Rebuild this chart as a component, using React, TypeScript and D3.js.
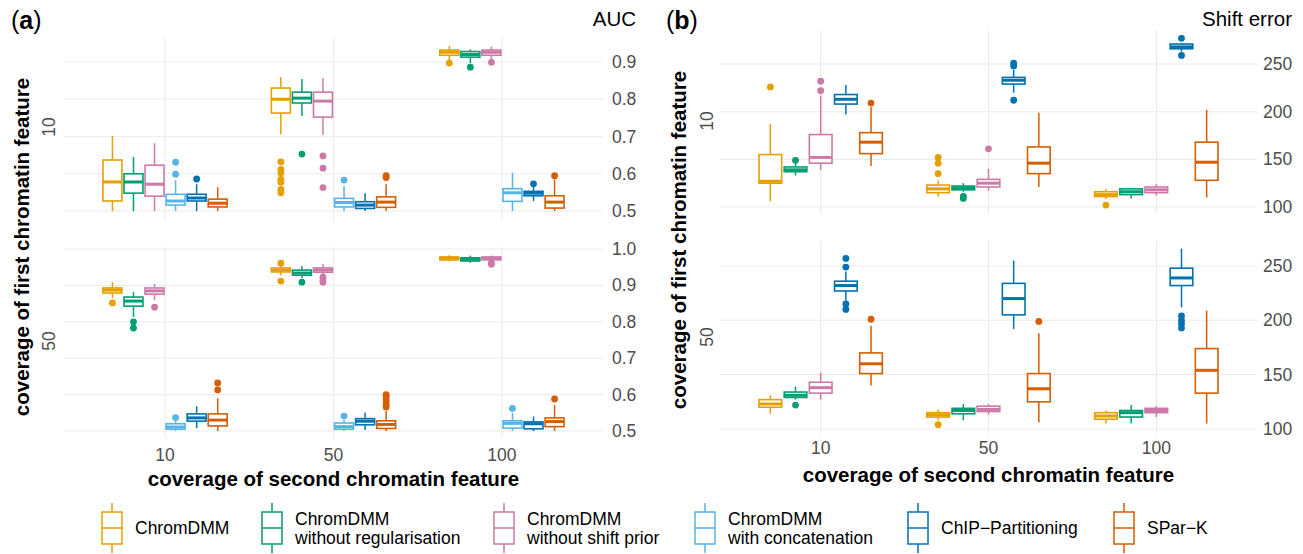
import React from "react";
import * as d3 from "d3";

// ---------- data ----------
const methodKeys = ["DMM", "noReg", "noShift", "concat", "ChIP", "SParK"];
const legendLines: string[][] = [
  ["ChromDMM"],
  ["ChromDMM", "without regularisation"],
  ["ChromDMM", "without shift prior"],
  ["ChromDMM", "with concatenation"],
  ["ChIP\u2212Partitioning"],
  ["SPar\u2212K"],
];
const palette = ["#E69F00", "#009E73", "#CC79A7", "#56B4E9", "#0072B2", "#D55E00"];
const secondCoverage = ["10", "50", "100"];
const firstCoverage = ["10", "50"];
const aucTicksRow10 = [0.5, 0.6, 0.7, 0.8, 0.9];
const aucTicksRow50 = [0.5, 0.6, 0.7, 0.8, 0.9, 1.0];
const shiftTicks = [100, 150, 200, 250];

// [method, second coverage, lower whisker, q1, median, q3, upper whisker, outliers]
type Stat = [string, string, number, number, number, number, number, number[]];

const aucRow10: Stat[] = [
  ["DMM", "10", 0.5, 0.527, 0.578, 0.637, 0.701, []],
  ["noReg", "10", 0.5, 0.548, 0.578, 0.6, 0.645, []],
  ["noShift", "10", 0.5, 0.54, 0.572, 0.623, 0.682, []],
  ["concat", "10", 0.5, 0.516, 0.527, 0.545, 0.583, [0.599, 0.631]],
  ["ChIP", "10", 0.5, 0.527, 0.535, 0.545, 0.572, [0.586]],
  ["SParK", "10", 0.5, 0.511, 0.521, 0.532, 0.564, []],
  ["DMM", "50", 0.706, 0.763, 0.8, 0.83, 0.859, [0.632, 0.612, 0.602, 0.585, 0.577, 0.558, 0.549]],
  ["noReg", "50", 0.755, 0.79, 0.803, 0.819, 0.854, [0.653]],
  ["noShift", "50", 0.705, 0.752, 0.795, 0.819, 0.857, [0.648, 0.615, 0.563]],
  ["concat", "50", 0.5, 0.511, 0.523, 0.534, 0.567, [0.583]],
  ["ChIP", "50", 0.5, 0.507, 0.516, 0.525, 0.548, []],
  ["SParK", "50", 0.5, 0.51, 0.524, 0.538, 0.572, [0.59, 0.595]],
  ["DMM", "100", 0.905, 0.918, 0.926, 0.932, 0.943, [0.897]],
  ["noReg", "100", 0.897, 0.913, 0.92, 0.928, 0.934, [0.886]],
  ["noShift", "100", 0.907, 0.918, 0.926, 0.932, 0.941, [0.899]],
  ["concat", "100", 0.5, 0.526, 0.549, 0.56, 0.603, []],
  ["ChIP", "100", 0.527, 0.541, 0.548, 0.553, 0.565, [0.573]],
  ["SParK", "100", 0.5, 0.508, 0.524, 0.541, 0.585, [0.595]],
];

const aucRow50: Stat[] = [
  ["DMM", "10", 0.865, 0.879, 0.887, 0.893, 0.909, [0.852]],
  ["noReg", "10", 0.813, 0.843, 0.857, 0.868, 0.882, [0.8, 0.783]],
  ["noShift", "10", 0.86, 0.876, 0.885, 0.893, 0.904, [0.84]],
  ["concat", "10", 0.5, 0.505, 0.511, 0.52, 0.527, [0.537]],
  ["ChIP", "10", 0.508, 0.527, 0.536, 0.547, 0.568, []],
  ["SParK", "10", 0.5, 0.514, 0.53, 0.547, 0.59, [0.613, 0.632]],
  ["DMM", "50", 0.928, 0.937, 0.942, 0.948, 0.953, [0.961, 0.912]],
  ["noReg", "50", 0.92, 0.928, 0.934, 0.942, 0.953, [0.909]],
  ["noShift", "50", 0.926, 0.936, 0.942, 0.948, 0.958, [0.923, 0.915, 0.909]],
  ["concat", "50", 0.5, 0.505, 0.512, 0.522, 0.53, [0.541]],
  ["ChIP", "50", 0.503, 0.517, 0.527, 0.534, 0.55, []],
  ["SParK", "50", 0.5, 0.507, 0.518, 0.528, 0.555, [0.566, 0.571, 0.58, 0.588, 0.596, 0.6]],
  ["DMM", "100", 0.966, 0.97, 0.975, 0.978, 0.983, []],
  ["noReg", "100", 0.962, 0.967, 0.972, 0.976, 0.982, []],
  ["noShift", "100", 0.967, 0.97, 0.975, 0.978, 0.982, [0.962, 0.958]],
  ["concat", "100", 0.5, 0.508, 0.521, 0.528, 0.55, [0.562]],
  ["ChIP", "100", 0.5, 0.506, 0.52, 0.525, 0.54, []],
  ["SParK", "100", 0.5, 0.512, 0.526, 0.536, 0.571, [0.588]],
];

const shiftRow10: Stat[] = [
  ["DMM", "10", 106, 125, 127, 155, 187, [226]],
  ["noReg", "10", 133, 137, 139, 142, 146, [149]],
  ["noShift", "10", 139, 146, 152, 176, 217, [222, 232]],
  ["ChIP", "10", 197, 208, 213, 218, 228, []],
  ["SParK", "10", 143, 156, 168, 178, 205, [209]],
  ["DMM", "50", 111, 115, 119, 123, 128, [135, 146, 152]],
  ["noReg", "50", 116, 118, 120, 122, 125, [111, 109]],
  ["noShift", "50", 117, 121, 125, 129, 140, [161]],
  ["ChIP", "50", 220, 229, 233, 236, 244, [248, 251, 212]],
  ["SParK", "50", 121, 135, 146, 163, 199, []],
  ["DMM", "100", 108, 111, 113, 116, 119, [102]],
  ["noReg", "100", 109, 113, 116, 119, 120, []],
  ["noShift", "100", 112, 115, 118, 121, 124, []],
  ["ChIP", "100", 263, 266, 268, 271, 272, [277, 259]],
  ["SParK", "100", 110, 128, 147, 168, 202, []],
];

const shiftRow50: Stat[] = [
  ["DMM", "10", 114, 120, 123, 127, 131, []],
  ["noReg", "10", 127, 129, 131, 134, 139, [122]],
  ["noShift", "10", 127, 133, 138, 143, 152, []],
  ["ChIP", "10", 218, 227, 232, 236, 245, [257, 249, 215, 210]],
  ["SParK", "10", 140, 151, 160, 170, 195, [201]],
  ["DMM", "50", 108, 111, 113, 115, 118, [104]],
  ["noReg", "50", 108, 114, 117, 119, 123, []],
  ["noShift", "50", 113, 116, 118, 121, 123, []],
  ["ChIP", "50", 192, 205, 220, 234, 255, []],
  ["SParK", "50", 106, 125, 137, 151, 188, [199]],
  ["DMM", "100", 105, 109, 112, 115, 117, []],
  ["noReg", "100", 105, 111, 115, 117, 122, []],
  ["noShift", "100", 111, 115, 117, 119, 121, []],
  ["ChIP", "100", 212, 232, 239, 248, 266, [204, 200, 197, 193]],
  ["SParK", "100", 105, 133, 154, 174, 209, []],
];

// ---------- layout / style ----------
const FONT = "'Liberation Sans', Arial, Helvetica, sans-serif";
const GRID = "#EBEBEB";
const TICK_COL = "#4D4D4D";

type RowCfg = {
  top: number;
  bottom: number;
  domain: [number, number];
  ticks: number[];
  data: Stat[];
  strip: string;
  stripY: number;
};

type PanelCfg = {
  x0: number;
  x1: number;
  keys: string[];
  rows: RowCfg[];
  tickX: number;
  fmt: (v: number) => string;
  stripX: number;
  titleX: number;
  titleY: number;
  xTickY: number;
  xTitleY: number;
  tag: string;
  tagX: number;
  yLabel: string;
  yLabelX: number;
};

const panels: PanelCfg[] = [
  {
    x0: 64,
    x1: 603,
    keys: methodKeys,
    rows: [
      { top: 37, bottom: 220, domain: [0.476, 0.967], ticks: aucTicksRow10, data: aucRow10, strip: firstCoverage[0], stripY: 127 },
      { top: 247, bottom: 438, domain: [0.4808, 1.0055], ticks: aucTicksRow50, data: aucRow50, strip: firstCoverage[1], stripY: 341 },
    ],
    tickX: 612,
    fmt: d3.format(".1f"),
    stripX: 49,
    titleX: 247,
    titleY: 21,
    xTickY: 455,
    xTitleY: 478,
    tag: "a",
    tagX: 11,
    yLabel: "AUC",
    yLabelX: 636,
  },
  {
    x0: 720,
    x1: 1257,
    keys: methodKeys.filter((k) => k !== "concat"),
    rows: [
      { top: 30, bottom: 213, domain: [93.7, 285.7], ticks: shiftTicks, data: shiftRow10, strip: firstCoverage[0], stripY: 121 },
      { top: 241, bottom: 433, domain: [96.3, 273], ticks: shiftTicks, data: shiftRow50, strip: firstCoverage[1], stripY: 337 },
    ],
    tickX: 1263,
    fmt: d3.format("d"),
    stripX: 707,
    titleX: 240,
    titleY: 678,
    xTickY: 448,
    xTitleY: 474,
    tag: "b",
    tagX: 666,
    yLabel: "Shift error",
    yLabelX: 1292,
  },
];

const legendKeyX = [112, 272, 504, 705, 918, 1124];

function Panel({ p }: { p: PanelCfg }) {
  const xPos = d3.scalePoint<string>().domain(secondCoverage).range([p.x0, p.x1]).padding(0.6);
  const step = xPos.step();
  const dodge = d3
    .scaleBand<string>()
    .domain(p.keys)
    .range([-0.375 * step, 0.375 * step])
    .paddingInner(0.1)
    .paddingOuter(0.05);
  const bw = dodge.bandwidth();

  return (
    <g>
      {p.rows.map((r, ri) => {
        const y = d3.scaleLinear().domain(r.domain).range([r.bottom, r.top]);
        return (
          <g key={ri}>
            {r.ticks.map((t) => (
              <line key={"h" + t} x1={p.x0} x2={p.x1} y1={y(t)} y2={y(t)} stroke={GRID} strokeWidth={1.1} />
            ))}
            {secondCoverage.map((c) => (
              <line key={"v" + c} x1={xPos(c)} x2={xPos(c)} y1={r.top} y2={r.bottom} stroke={GRID} strokeWidth={1.1} />
            ))}
            {r.ticks.map((t) => (
              <text key={"t" + t} x={p.tickX} y={y(t)} dominantBaseline="central" fontSize={17.5} fill={TICK_COL}>
                {p.fmt(t)}
              </text>
            ))}
            <text
              transform={`translate(${p.stripX},${r.stripY}) rotate(-90)`}
              textAnchor="middle"
              dominantBaseline="central"
              fontSize={17.5}
              fill={TICK_COL}
            >
              {r.strip}
            </text>
            {r.data.map((s, i) => {
              const [m, xc, lo, q1, med, q3, hi, outs] = s;
              const mi = methodKeys.indexOf(m);
              const col = palette[mi];
              const cx = (xPos(xc) as number) + (dodge(m) as number) + bw / 2;
              return (
                <g key={i}>
                  <line x1={cx} x2={cx} y1={y(hi)} y2={y(q3)} stroke={col} strokeWidth={1.5} />
                  <line x1={cx} x2={cx} y1={y(q1)} y2={y(lo)} stroke={col} strokeWidth={1.5} />
                  <rect
                    x={cx - bw / 2}
                    y={y(q3)}
                    width={bw}
                    height={Math.max(0.5, y(q1) - y(q3))}
                    fill="#ffffff"
                    stroke={col}
                    strokeWidth={1.6}
                  />
                  <line x1={cx - bw / 2} x2={cx + bw / 2} y1={y(med)} y2={y(med)} stroke={col} strokeWidth={3} />
                  {outs.map((o, k) => (
                    <circle key={k} cx={cx} cy={y(o)} r={3.4} fill={col} />
                  ))}
                </g>
              );
            })}
          </g>
        );
      })}
      {secondCoverage.map((c) => (
        <text key={"xt" + c} x={xPos(c)} y={p.xTickY} textAnchor="middle" dominantBaseline="central" fontSize={17.5} fill={TICK_COL}>
          {c}
        </text>
      ))}
      <text
        x={(p.x0 + p.x1) / 2}
        y={p.xTitleY}
        textAnchor="middle"
        dominantBaseline="central"
        fontSize={20.5}
        fontWeight="bold"
        fill="#000"
      >
        coverage of second chromatin feature
      </text>
      <text
        transform={`translate(${p.titleY},${p.titleX}) rotate(-90)`}
        textAnchor="middle"
        dominantBaseline="central"
        fontSize={20.5}
        fontWeight="bold"
        fill="#000"
      >
        coverage of first chromatin feature
      </text>
      <text x={p.yLabelX} y={26} textAnchor="end" fontSize={20.5} fill="#000">
        {p.yLabel}
      </text>
      <text x={p.tagX} y={29} fontSize={25} fill="#000">
        (<tspan fontWeight="bold">{p.tag}</tspan>)
      </text>
    </g>
  );
}

function Legend() {
  return (
    <g>
      {legendLines.map((lines, i) => {
        const cx = legendKeyX[i];
        const col = palette[i];
        return (
          <g key={i}>
            <line x1={cx} x2={cx} y1={503} y2={553} stroke={col} strokeWidth={1.5} />
            <rect x={cx - 10} y={512} width={20} height={32} fill="#fff" stroke={col} strokeWidth={1.5} />
            <line x1={cx - 10} x2={cx + 10} y1={528} y2={528} stroke={col} strokeWidth={1.5} />
            {lines.map((ln, k) => (
              <text
                key={k}
                x={cx + 23}
                y={lines.length === 1 ? 528 : 519 + k * 19}
                dominantBaseline="central"
                fontSize={17.5}
                fill="#000"
              >
                {ln}
              </text>
            ))}
          </g>
        );
      })}
    </g>
  );
}

export default function App() {
  return (
    <svg
      width={1303}
      height={554}
      style={{ position: "absolute", left: 0, top: 0, background: "#fff", fontFamily: FONT }}
    >
      <rect x={0} y={0} width={1303} height={554} fill="#fff" />
      {panels.map((p, i) => (
        <Panel key={i} p={p} />
      ))}
      <Legend />
    </svg>
  );
}
